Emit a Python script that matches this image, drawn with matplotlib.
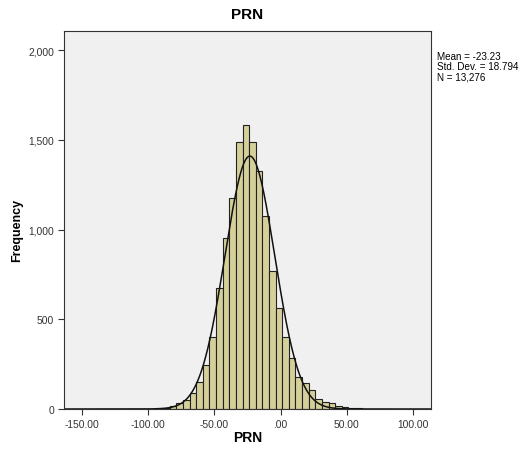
import matplotlib
matplotlib.use('Agg')
import matplotlib.pyplot as plt
import numpy as np
from matplotlib.ticker import FuncFormatter

plt.rcParams['font.family'] = ['Liberation Sans', 'DejaVu Sans']

# histogram of PRN, bin width 5
bin_left = np.arange(-108.75, 80, 5)
counts = [1, 1, 2, 4, 8, 18, 33, 50, 87, 149, 245, 399, 674, 951, 1174, 1486,
          1582, 1486, 1328, 1073, 767, 561, 399, 282, 180, 143, 106, 56, 37,
          32, 18, 10, 6, 4, 2, 1, 1, 1]
bin_left = bin_left[:len(counts)]
bin_width = 5

mean = -23.23
std = 18.794
n = 13276

fig = plt.figure(figsize=(5.21, 4.52), dpi=100)
ax = fig.add_axes([64/521, 1-410/452, (431-64)/521, (410-32)/452])
ax.set_facecolor('#f0f0f0')

ax.bar(bin_left, counts, width=bin_width, align='edge', color='#d5d09a',
       edgecolor='#222222', linewidth=0.8)

xs = np.linspace(-163, 113, 600)
curve = n * bin_width * np.exp(-0.5 * ((xs - mean) / std) ** 2) / (std * np.sqrt(2 * np.pi))
ax.plot(xs, curve, color='#111111', linewidth=1.1)

ax.set_xlim(-163.6, 113.6)
ax.set_ylim(0, 2106)
ax.set_xticks([-150, -100, -50, 0, 50, 100])
ax.set_yticks([0, 500, 1000, 1500, 2000])


def xfmt(v, pos):
    s = '%.2f' % v
    if s.startswith('0'):
        s = s[1:]
    return s


ax.xaxis.set_major_formatter(FuncFormatter(xfmt))
ax.yaxis.set_major_formatter(FuncFormatter(lambda v, p: '{:,}'.format(int(v))))
ax.tick_params(direction='out', length=4, width=0.8, labelsize=7.4, colors='#333333',
               labelcolor='#333333', pad=3)
for s in ax.spines.values():
    s.set_color('#333333')
    s.set_linewidth(0.8)

fig.text(247.5/521, 1-15/452, 'PRN', ha='center', va='center', fontsize=11,
         fontweight='bold')
fig.text(247.5/521, 1-438/452, 'PRN', ha='center', va='center', fontsize=10,
         fontweight='bold')
fig.text(17/521, 1-230/452, 'Frequency', ha='center', va='center', rotation=90,
         fontsize=9, fontweight='bold')
fig.text(437/521, 1-52/452, 'Mean = -23.23\nStd. Dev. = 18.794\nN = 13,276',
         ha='left', va='top', fontsize=7.1, linespacing=1.0)

fig.savefig('out.png', dpi=100)
